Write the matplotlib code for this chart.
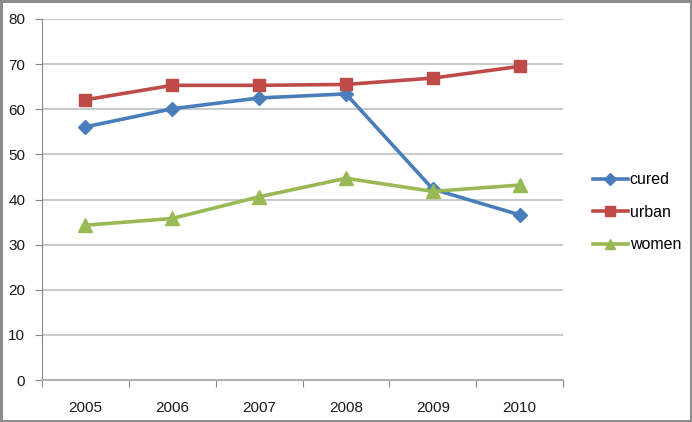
import matplotlib
matplotlib.use("Agg")
import matplotlib.pyplot as plt
import numpy as np

# data
years = ["2005", "2006", "2007", "2008", "2009", "2010"]
cured = [56.1, 60.1, 62.5, 63.4, 42.3, 36.6]
urban = [62.1, 65.3, 65.3, 65.5, 66.9, 69.5]
women = [34.3, 35.8, 40.6, 44.7, 41.8, 43.2]
y_ticks = [0, 10, 20, 30, 40, 50, 60, 70, 80]

plt.rcParams["font.family"] = ["Liberation Sans", "DejaVu Sans"]

fig = plt.figure(figsize=(6.92, 4.22), dpi=100, edgecolor="#8c8c8c", linewidth=2.5)
ax = fig.add_axes([0.0607, 0.0995, 0.753, 0.8555])

x = np.arange(len(years))
ax.plot(x, cured, color="#4A7EBB", lw=2.6, marker="D", ms=7.5, label="cured")
ax.plot(x, urban, color="#BE4B48", lw=2.6, marker="s", ms=9, label="urban")
ax.plot(x, women, color="#98B954", lw=2.6, marker="^", ms=10, label="women")

ax.set_xlim(-0.5, len(years) - 0.5)
ax.set_ylim(0, 80)
ax.set_yticks(y_ticks)
ax.yaxis.grid(True, color="#c0c0c0", lw=1.2)
ax.set_axisbelow(True)

# category boundaries get the tick marks, labels sit in between
ax.set_xticks(np.arange(len(years) + 1) - 0.5)
ax.set_xticklabels([])
ax.set_xticks(x, minor=True)
ax.set_xticklabels(years, minor=True)
ax.tick_params(axis="x", which="minor", length=0, pad=15, labelsize=11, labelcolor="#1a1a1a")
ax.tick_params(axis="x", which="major", length=5, color="#888888", direction="out")
ax.tick_params(axis="y", length=5, color="#888888", labelsize=11, labelcolor="#1a1a1a", pad=7)

for s in ["top", "right"]:
    ax.spines[s].set_visible(False)
ax.spines["left"].set_color("#888888")
ax.spines["bottom"].set_color("#b0b0b0")
ax.spines["bottom"].set_linewidth(1.5)

fig.legend(loc="center left", bbox_to_anchor=(0.836, 0.497), frameon=False,
           fontsize=11.5, handlelength=2.2, handletextpad=0.1, labelspacing=1.1,
           markerscale=0.75)

fig.savefig("out.png", dpi=100)
